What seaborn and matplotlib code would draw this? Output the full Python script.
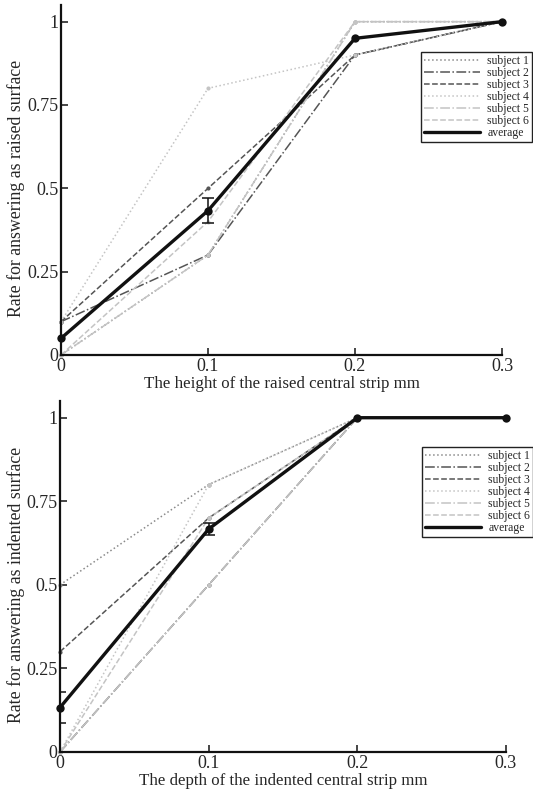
"""Rate of answering raised / indented surface vs. strip height / depth."""
import numpy as np
import pandas as pd
import seaborn as sns
import matplotlib.pyplot as plt

# ----- data -----
x_levels = [0.0, 0.1, 0.2, 0.3]

# raised central strip
raised_s1 = [0.0, 0.3, 1.0, 1.0]
raised_s2 = [0.1, 0.3, 0.9, 1.0]
raised_s3 = [0.1, 0.5, 0.9, 1.0]
raised_s4 = [0.1, 0.8, 0.9, 1.0]
raised_s5 = [0.0, 0.3, 1.0, 1.0]
raised_s6 = [0.0, 0.4, 1.0, 1.0]
raised_avg = [0.05, 0.433, 0.95, 1.0]
raised_err = [0.0, 0.038, 0.0, 0.0]

# indented central strip
indent_s1 = [0.5, 0.8, 1.0, 1.0]
indent_s2 = [0.0, 0.5, 1.0, 1.0]
indent_s3 = [0.3, 0.7, 1.0, 1.0]
indent_s4 = [0.0, 0.8, 1.0, 1.0]
indent_s5 = [0.0, 0.5, 1.0, 1.0]
indent_s6 = [0.0, 0.7, 1.0, 1.0]
indent_avg = [0.133, 0.667, 1.0, 1.0]
indent_err = [0.046, 0.019, 0.0, 0.0]

subject_labels = ["subject 1", "subject 2", "subject 3",
                  "subject 4", "subject 5", "subject 6"]
x_ticklabels = ["0", "0.1", "0.2", "0.3"]
y_ticks = [0, 0.25, 0.5, 0.75, 1]
y_ticklabels = ["0", "0.25", "0.5", "0.75", "1"]

# line styles (MATLAB look)
subject_colors = ["#8a8a8a", "#555555", "#555555", "#c4c4c4", "#c4c4c4", "#c4c4c4"]
subject_styles = [":", "-.", "--", ":", "-.", "--"]

sns.set_style("ticks")
plt.rcParams['font.family'] = ['Liberation Serif', 'DejaVu Serif']


def draw_panel(ax, subjects, avg, err, xlabel, ylabel, legend_anchor, ylab_x):
    for vals, lab, col, ls in zip(subjects, subject_labels, subject_colors, subject_styles):
        df = pd.DataFrame({"x": x_levels, "y": vals})
        sns.lineplot(data=df, x="x", y="y", ax=ax, color=col, linestyle=ls,
                     linewidth=1.1, marker="o", markersize=3, markeredgewidth=0,
                     label=lab, clip_on=False)
    df = pd.DataFrame({"x": x_levels, "y": avg})
    sns.lineplot(data=df, x="x", y="y", ax=ax, color="#111111", linewidth=2.4,
                 marker="o", markersize=6, markeredgewidth=0, label="average",
                 clip_on=False, zorder=5)
    err = np.array(err)
    mask = err > 0
    ax.errorbar(np.array(x_levels)[mask], np.array(avg)[mask], yerr=err[mask],
                fmt="none", ecolor="#111111", elinewidth=1.1, capsize=4,
                capthick=1.1, zorder=6)

    ax.set_xlim(0, 0.3)
    ax.set_ylim(0, 1.05)
    ax.set_xticks(x_levels)
    ax.set_xticklabels(x_ticklabels)
    ax.set_yticks(y_ticks)
    ax.set_yticklabels(y_ticklabels)
    ax.tick_params(direction="in", length=5, width=1.2, labelsize=13, pad=2)
    sns.despine(ax=ax)
    for side in ["left", "bottom"]:
        ax.spines[side].set_linewidth(1.6)
        ax.spines[side].set_color("#111111")
    ax.set_xlabel(xlabel, fontsize=12.2, labelpad=1)
    ax.set_ylabel(ylabel, fontsize=12.8)
    ax.yaxis.set_label_coords(ylab_x, 0.5 / 1.05)

    leg = ax.legend(loc="upper right", bbox_to_anchor=legend_anchor,
                    bbox_transform=ax.figure.transFigure, borderaxespad=0,
                    fontsize=8.4, handlelength=4.8, labelspacing=0.0,
                    handletextpad=0.6, borderpad=0.25, fancybox=False,
                    framealpha=1, edgecolor="#222222")
    leg.get_frame().set_linewidth(1.0)
    for line in leg.get_lines():
        line.set_marker("")


fig = plt.figure(figsize=(5.33, 7.91), dpi=100)
ax_top = fig.add_axes([61 / 533, 1 - 355 / 791, 441 / 533, 350 / 791])
ax_bot = fig.add_axes([60 / 533, 1 - 752 / 791, 446 / 533, 351 / 791])

draw_panel(ax_top,
           [raised_s1, raised_s2, raised_s3, raised_s4, raised_s5, raised_s6],
           raised_avg, raised_err,
           "The height of the raised central strip mm",
           "Rate for answering as raised surface",
           (532 / 533, 1 - 52 / 791), -36 / 441)
draw_panel(ax_bot,
           [indent_s1, indent_s2, indent_s3, indent_s4, indent_s5, indent_s6],
           indent_avg, indent_err,
           "The depth of the indented central strip mm",
           "Rate for answering as indented surface",
           (533 / 533, 1 - 447 / 791), -35 / 446)

plt.savefig("out.png", dpi=100)
